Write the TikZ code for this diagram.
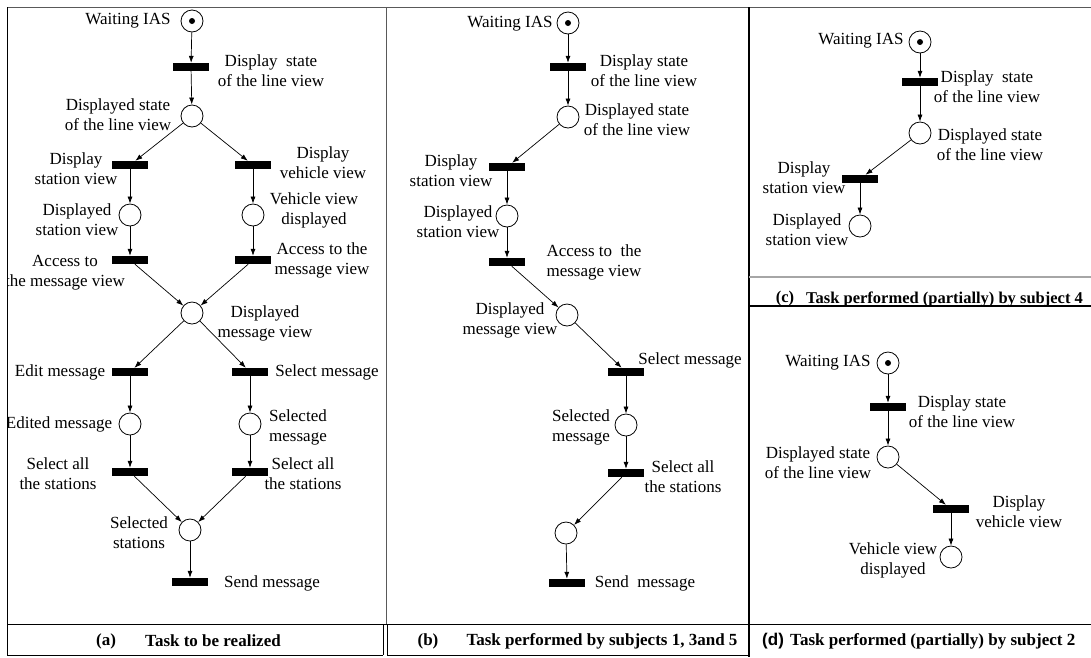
\documentclass[tikz,border=0pt]{standalone}
\usepackage{fontspec}
\setmainfont{Liberation Serif}
\newfontfamily\capsans{Liberation Sans}
\usetikzlibrary{arrows.meta}
\tikzset{
  place/.style={circle,draw,line width=0.8pt,minimum size=22pt,inner sep=0pt},
  tok/.style={circle,fill=black,minimum size=6pt,inner sep=0pt},
  trans/.style={rectangle,fill=black,minimum width=36pt,minimum height=8pt,inner sep=0pt},
  lbl/.style={font=\fontsize{17}{20}\selectfont,inner sep=0pt,align=center},
  captxt/.style={font=\fontsize{17}{20}\selectfont\bfseries,inner sep=0pt},
  arc/.style={-{Latex[length=7pt,width=5pt]},line width=0.7pt},
  frame/.style={line width=1pt},
}
\begin{document}
\begin{tikzpicture}[x=1pt,y=-1pt]
\useasboundingbox (0,0) rectangle (1091,657);
\fill[white] (0,0) rectangle (1091,657);

% ---------------- Panel (a) ----------------
\begin{scope}
\clip (8,8) rectangle (385,623);
\node[place] (pa1) at (192,21) {};
\node[tok] (pa1t) at (pa1) {};
\node[trans] (ta1) at (191,67) {};
\node[place] (pa2) at (192,116) {};
\node[trans] (ta2l) at (130,165) {};
\node[trans] (ta2r) at (253,165) {};
\node[place] (pa3l) at (130,215) {};
\node[place] (pa3r) at (253,215) {};
\node[trans] (ta3l) at (130,260) {};
\node[trans] (ta3r) at (253,260) {};
\node[place] (pa4) at (192,313) {};
\node[trans] (ta4l) at (130,372) {};
\node[trans] (ta4r) at (250,372) {};
\node[place] (pa5l) at (130,424) {};
\node[place] (pa5r) at (250,424) {};
\node[trans] (ta5l) at (130,472) {};
\node[trans] (ta5r) at (250,472) {};
\node[place] (pa6) at (190,530) {};
\node[trans] (ta6) at (190,582) {};

\draw[arc] (pa1) -- (ta1);
\draw[arc] (ta1) -- (pa2);
\draw[arc] (pa2) -- (ta2l);
\draw[arc] (pa2) -- (ta2r);
\draw[arc] (ta2l) -- (pa3l);
\draw[arc] (ta2r) -- (pa3r);
\draw[arc] (pa3l) -- (ta3l);
\draw[arc] (pa3r) -- (ta3r);
\draw[arc] (ta3l) -- (pa4);
\draw[arc] (ta3r) -- (pa4);
\draw[arc] (pa4) -- (ta4l);
\draw[arc] (pa4) -- (ta4r);
\draw[arc] (ta4l) -- (pa5l);
\draw[arc] (ta4r) -- (pa5r);
\draw[arc] (pa5l) -- (ta5l);
\draw[arc] (pa5r) -- (ta5r);
\draw[arc] (ta5l) -- (pa6);
\draw[arc] (ta5r) -- (pa6);
\draw[arc] (pa6) -- (ta6);

\node[lbl] (la1) at (128,21) {Waiting IAS};
\node[lbl] (la2) at (271,71) {Display~ state\\of the line view};
\node[lbl] (la3) at (118,115) {Displayed state\\of the line view};
\node[lbl] (la4) at (76,169) {Display\\station view};
\node[lbl] (la5) at (323,163) {Display\\vehicle view};
\node[lbl] (la6) at (77,220) {Displayed\\station view};
\node[lbl] (la7) at (314,210) {Vehicle view\\displayed};
\node[lbl] (la8) at (65,273) {Access to\\the message view};
\node[lbl] (la9) at (322,260) {Access to the\\message view};
\node[lbl] (la10) at (265,323) {Displayed\\message view};
\node[lbl] (la11) at (60,372) {Edit message};
\node[lbl] (la12) at (327,372) {Select message};
\node[lbl] (la13) at (59,424) {Edited message};
\node[lbl,align=left] (la14) at (298,427) {Selected\\message};
\node[lbl] (la15) at (58,474) {Select all\\the stations};
\node[lbl] (la16) at (303,474) {Select all\\the stations};
\node[lbl] (la17) at (139,533) {Selected\\stations};
\node[lbl] (la18) at (272,583) {Send message};
\end{scope}
\node[captxt] (ca1) at (106,641) {(a)};
\node[captxt] (ca2) at (213,641) {Task to be realized};

% ---------------- Panel (b) ----------------
\node[place] (pb1) at (568,23) {};
\node[tok] (pb1t) at (pb1) {};
\node[trans] (tb1) at (568,67) {};
\node[place] (pb2) at (568,117) {};
\node[trans] (tb2) at (507,167) {};
\node[place] (pb3) at (507,216) {};
\node[trans] (tb3) at (507,262) {};
\node[place] (pb4) at (567,315) {};
\node[trans] (tb4) at (626,372) {};
\node[place] (pb5) at (626,425) {};
\node[trans] (tb5) at (626,473) {};
\node[place] (pb6) at (566,533) {};
\node[trans] (tb6) at (567,583) {};

\draw[arc] (pb1) -- (tb1);
\draw[arc] (tb1) -- (pb2);
\draw[arc] (pb2) -- (tb2);
\draw[arc] (tb2) -- (pb3);
\draw[arc] (pb3) -- (tb3);
\draw[arc] (tb3) -- (pb4);
\draw[arc] (pb4) -- (tb4);
\draw[arc] (tb4) -- (pb5);
\draw[arc] (pb5) -- (tb5);
\draw[arc] (tb5) -- (pb6);
\draw[arc] (pb6) -- (tb6);

\node[lbl] (lb1) at (510,24) {Waiting IAS};
\node[lbl] (lb2) at (644,71) {Display state\\of the line view};
\node[lbl] (lb3) at (637,120) {Displayed state\\of the line view};
\node[lbl] (lb4) at (451,171) {Display\\station view};
\node[lbl] (lb5) at (458,222) {Displayed\\station view};
\node[lbl] (lb6) at (594,262) {Access to~ the\\message view};
\node[lbl] (lb7) at (510,320) {Displayed\\message view};
\node[lbl] (lb8) at (690,360) {Select message};
\node[lbl] (lb9) at (581,427) {Selected\\message};
\node[lbl] (lb10) at (683,477) {Select all\\the stations};
\node[lbl] (lb11) at (645,583) {Send~ message};
\node[captxt] (cb1) at (428,641) {(b)};
\node[captxt] (cb2) at (602,641) {Task performed by subjects 1, 3and 5};

% ---------------- Panel (c) ----------------
\node[place] (pc1) at (920,42) {};
\node[tok] (pc1t) at (pc1) {};
\node[trans] (tc1) at (920,82) {};
\node[place] (pc2) at (920,133) {};
\node[trans] (tc2) at (860,179) {};
\node[place] (pc3) at (860,226) {};

\draw[arc] (pc1) -- (tc1);
\draw[arc] (tc1) -- (pc2);
\draw[arc] (pc2) -- (tc2);
\draw[arc] (tc2) -- (pc3);

\node[lbl] (lc1) at (861,41) {Waiting IAS};
\node[lbl] (lc2) at (987,87) {Display~ state\\of the line view};
\node[lbl] (lc3) at (990,145) {Displayed state\\of the line view};
\node[lbl] (lc4) at (804,178) {Display\\station view};
\node[lbl] (lc5) at (807,230) {Displayed\\station view};
\node[captxt,font=\fontsize{16.5}{20}\selectfont\bfseries] (cc1) at (785,299) {(c)};
\node[captxt,anchor=west,font=\fontsize{16.5}{20}\selectfont\bfseries] (cc2) at (806,299) {Task performed (partially) by subject 4};

% ---------------- Panel (d) ----------------
\node[place] (pd1) at (888,363) {};
\node[tok] (pd1t) at (pd1) {};
\node[trans] (td1) at (888,407) {};
\node[place] (pd2) at (888,457) {};
\node[trans] (td2) at (951,509) {};
\node[place] (pd3) at (951,557) {};

\draw[arc] (pd1) -- (td1);
\draw[arc] (td1) -- (pd2);
\draw[arc] (pd2) -- (td2);
\draw[arc] (td2) -- (pd3);

\node[lbl] (ld1) at (828,363) {Waiting IAS};
\node[lbl] (ld2) at (962,412) {Display state\\of the line view};
\node[lbl] (ld3) at (818,463) {Displayed state\\of the line view};
\node[lbl] (ld4) at (1019,512) {Display\\vehicle view};
\node[lbl] (ld5) at (893,560) {Vehicle view\\displayed};
\node[captxt,anchor=west,font=\fontsize{17}{20}\selectfont\capsans\bfseries] (cd1) at (762,641) {(d)};
\node[captxt,anchor=west] (cd2) at (790,641) {Task performed (partially) by subject 2};

% ---------------- Frames ----------------
\draw[frame,gray!70!black] (7,7) -- (1091,7);
\draw[frame] (7,7) -- (7,655) -- (383,655);
\draw[frame,gray!70!black] (386,7) -- (386,624);
\draw[frame] (383,624) -- (383,655);
\draw[frame] (387,624) -- (387,655) -- (749,655);
\draw[line width=1.6pt] (749,7) -- (749,657);
\draw[frame] (7,624) -- (1091,624);
\draw[line width=1.6pt,gray!70] (749,277) -- (1091,277);
\draw[line width=1.6pt] (749,306) -- (1091,306);
\end{tikzpicture}
\end{document}
